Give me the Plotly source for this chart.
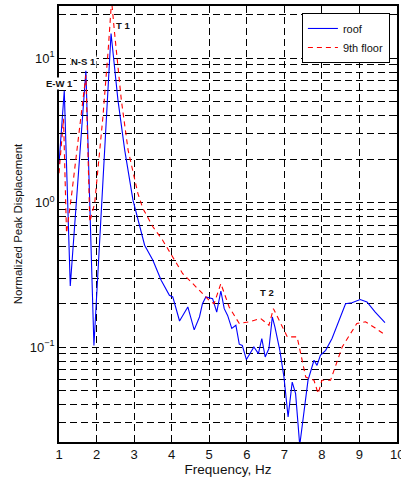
import plotly.graph_objects as go

# Roof (blue, solid)
roof_f = [1.00, 1.14, 1.30, 1.716, 1.93, 2.386, 2.57, 2.75, 2.97, 3.19, 3.28, 3.50, 3.72, 3.94,
          4.03, 4.21, 4.43, 4.60, 4.74, 4.82, 4.91, 5.09, 5.20, 5.31, 5.40, 5.49, 5.60, 5.71,
          5.80, 5.88, 5.99, 6.19, 6.31, 6.40, 6.49, 6.59, 6.68, 6.75, 6.88, 6.99, 7.10, 7.21,
          7.30, 7.41, 7.52, 7.63, 7.79, 7.87, 7.96, 8.10, 8.27, 8.45, 8.63, 8.80, 9.02, 9.20,
          9.42, 9.68]
roof_v = [1.85, 5.94, 0.265, 8.17, 0.103, 14.8, 5.12, 2.31, 1.04, 0.615, 0.508, 0.40, 0.291, 0.229,
          0.223, 0.152, 0.190, 0.132, 0.162, 0.200, 0.223, 0.217, 0.175, 0.245, 0.185, 0.166, 0.135, 0.142,
          0.105, 0.103, 0.0822, 0.1005, 0.0904, 0.115, 0.0857, 0.098, 0.162, 0.138, 0.0953, 0.0622, 0.033, 0.0575,
          0.0478, 0.021, 0.0348, 0.0591, 0.0813, 0.075, 0.0881, 0.0953, 0.115, 0.154, 0.200, 0.203, 0.214, 0.206,
          0.175, 0.148]

# 9th floor (red, dashed)
floor9_f = [1.00, 1.12, 1.20, 1.34, 1.716, 1.82, 1.95, 2.17, 2.31, 2.40, 2.48, 2.66, 2.84, 3.10,
            3.23, 3.50, 3.76, 4.03, 4.29, 4.56, 4.78, 5.00, 5.13, 5.31, 5.53, 5.80, 6.06, 6.37,
            6.59, 6.71, 7.08, 7.34, 7.57, 7.79, 7.90, 8.00, 8.23, 8.54, 8.93, 9.16, 9.42, 9.68]
floor9_v = [1.60, 3.8, 0.615, 1.16, 7.6, 0.736, 0.99, 3.93, 11.4, 25.0, 14.9, 5.12, 2.31, 1.16,
            0.916, 0.681, 0.55, 0.422, 0.324, 0.276, 0.241, 0.211, 0.200, 0.276, 0.19, 0.146, 0.15, 0.158,
            0.142, 0.185, 0.118, 0.118, 0.0622, 0.0591, 0.0478, 0.0591, 0.0591, 0.1005, 0.146, 0.150, 0.136, 0.122]

x_ticks = [1, 2, 3, 4, 5, 6, 7, 8, 9, 10]
y_grid = [0.03, 0.04, 0.05, 0.06, 0.07, 0.08, 0.09,
          0.1, 0.2, 0.3, 0.4, 0.5, 0.6, 0.7, 0.8, 0.9,
          1, 2, 3, 4, 5, 6, 7, 8, 9, 10, 20]
y_labels = {0.1: "10<sup>−1</sup>", 1: "10<sup>0</sup>", 10: "10<sup>1</sup>"}
peak_labels = ["E-W 1", "N-S 1", "T 1", "T 2"]
peak_x = [1.01, 1.65, 2.71, 6.53]
peak_logy = [0.827, 0.979, 1.228, -0.619]

FONT = "Liberation Sans, Arial, Helvetica, sans-serif"
TXT = "#111"

fig = go.Figure()
fig.add_trace(go.Scatter(x=roof_f, y=roof_v, mode="lines", name="roof",
                         line=dict(color="#0000ff", width=1.1)))
fig.add_trace(go.Scatter(x=floor9_f, y=floor9_v, mode="lines", name="9th floor",
                         line=dict(color="#ff0000", width=1.1, dash="5px,4px")))

for t, px, py in zip(peak_labels, peak_x, peak_logy):
    fig.add_annotation(x=px, y=py, text="<b>" + t + "</b>", showarrow=False,
                       font=dict(size=9.5, color=TXT, family=FONT),
                       bgcolor="white", borderpad=0)

# last x tick label (partly cut by the window edge as in the reference)
fig.add_annotation(x=x_ticks[-1], xref="x", y=0, yref="paper", yanchor="top", yshift=-3,
                   text=str(x_ticks[-1]), showarrow=False,
                   font=dict(size=13, color=TXT, family=FONT))

grid = dict(showgrid=True, gridcolor="#000000", gridwidth=1, griddash="7px,4px")

fig.update_xaxes(range=[1, 10], tickvals=x_ticks[:-1], ticktext=[str(v) for v in x_ticks[:-1]],
                 ticks="inside", ticklen=4, tickcolor="black",
                 showline=True, linecolor="black", linewidth=1.5, mirror="ticks",
                 zeroline=False,
                 tickfont=dict(size=13, color=TXT, family=FONT),
                 title=dict(text="Frequency, Hz", font=dict(size=13.5, color=TXT, family=FONT),
                            standoff=3),
                 **grid)
fig.update_yaxes(type="log", range=[-1.655, 1.36], tickvals=y_grid,
                 ticktext=[y_labels.get(v, "") for v in y_grid],
                 ticks="inside", ticklen=4, tickcolor="black",
                 showline=True, linecolor="black", linewidth=1.5, mirror="ticks",
                 tickfont=dict(size=13, color=TXT, family=FONT),
                 title=dict(text="Normalized Peak Displacement",
                            font=dict(size=11.5, color=TXT, family=FONT), standoff=5),
                 **grid)

fig.update_layout(
    width=401, height=483,
    margin=dict(l=59, r=2, t=6, b=41),
    paper_bgcolor="white", plot_bgcolor="white",
    showlegend=True,
    legend=dict(x=0.979, y=0.984, xanchor="right", yanchor="top",
                bgcolor="white", bordercolor="black", borderwidth=1,
                font=dict(size=11, color=TXT, family=FONT),
                tracegroupgap=0, itemwidth=30),
)

fig.write_html("out.html")
